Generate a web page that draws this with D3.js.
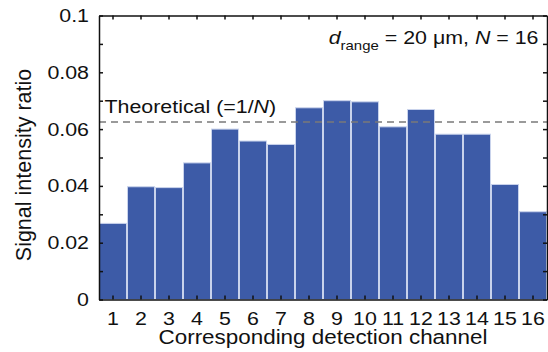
<!DOCTYPE html>
<html lang="en">
<head>
    <meta charset="UTF-8">
    <title>Signal intensity ratio per channel</title>
    <script src="https://d3js.org/d3.v7.min.js"></script>
    <style>
        body { margin: 0; background: #fff; }
        text { font-family: "Liberation Sans", Arial, sans-serif; fill: #111; }
        .axis path, .axis line { stroke: #111; stroke-width: 1.5px; }
        .axis text { font-size: 18.6px; }
    </style>
</head>
<body>
    <div id="chart"></div>

    <script>
        // values
        var channels = [1, 2, 3, 4, 5, 6, 7, 8, 9, 10, 11, 12, 13, 14, 15, 16];
        var ratios = [0.0268, 0.0397, 0.0394, 0.0481, 0.0600, 0.0558, 0.0546, 0.0675,
                      0.0700, 0.0696, 0.0608, 0.0669, 0.0582, 0.0582, 0.0405, 0.0309];
        var yLabelTicks = [0, 0.02, 0.04, 0.06, 0.08, 0.1];
        var yMinorTicks = [0, 0.01, 0.02, 0.03, 0.04, 0.05, 0.06, 0.07, 0.08, 0.09, 0.1];
        var theoretical = 1 / 16;

        var W = 548, H = 352;
        // plot frame ("top" is taken by window.top, so prefixed names)
        var pLeft = 99, pRight = 547, pTop = 15.5, pBottom = 299.5;
        var sx = 1.15; // text in the picture is a bit wider than it is tall

        var svg = d3.select("#chart").append("svg")
            .attr("width", W)
            .attr("height", H);

        var x = d3.scaleBand()
            .domain(channels)
            .range([pLeft, pRight])
            .padding(0);

        var y = d3.scaleLinear()
            .domain([0, 0.1])
            .range([pBottom, pTop]);

        // bars
        svg.append("g")
            .selectAll("rect")
            .data(channels)
            .join("rect")
            .attr("x", function(d) { return x(d) + 0.5; })
            .attr("width", x.bandwidth() - 1)
            .attr("y", function(d, i) { return y(ratios[i]); })
            .attr("height", function(d, i) { return y(0) - y(ratios[i]); })
            .attr("fill", "#3d5ba7")
            .attr("stroke", "#c9d3ec")
            .attr("stroke-width", 1);

        // theoretical line
        svg.append("line")
            .attr("x1", pLeft)
            .attr("x2", pRight)
            .attr("y1", y(theoretical))
            .attr("y2", y(theoretical))
            .attr("stroke", "#7a7a7a")
            .attr("stroke-width", 1.3)
            .attr("stroke-dasharray", "7,5");

        // axes, ticks point inward
        var fmt = function(d) { return d === 0 ? "0" : String(+d.toFixed(2)); };

        var gLeft = svg.append("g").attr("class", "axis")
            .attr("transform", "translate(" + pLeft + ",0)")
            .call(d3.axisLeft(y).tickValues(yMinorTicks).tickSize(-4).tickSizeOuter(0)
                .tickFormat(function(d) { return yLabelTicks.indexOf(d) >= 0 ? fmt(d) : ""; }));
        gLeft.selectAll("text")
            .attr("x", -10 / sx)
            .attr("transform", "scale(" + sx + ",1)");

        svg.append("g").attr("class", "axis")
            .attr("transform", "translate(" + pRight + ",0)")
            .call(d3.axisRight(y).tickValues(yMinorTicks).tickSize(-4).tickSizeOuter(0).tickFormat(""));

        var gBottom = svg.append("g").attr("class", "axis")
            .attr("transform", "translate(0," + pBottom + ")")
            .call(d3.axisBottom(x).tickSize(-4).tickSizeOuter(0));
        gBottom.selectAll("text")
            .attr("y", 25.5)
            .attr("dy", null)
            .attr("transform", "scale(" + sx + ",1)")
            .attr("x", 0);

        svg.append("g").attr("class", "axis")
            .attr("transform", "translate(0," + pTop + ")")
            .call(d3.axisTop(x).tickSize(-4).tickSizeOuter(0).tickFormat(""));

        svg.selectAll(".axis .domain").attr("stroke-width", 1.6);

        // axis titles
        svg.append("text")
            .attr("transform", "translate(31,165) rotate(-90)")
            .attr("text-anchor", "middle")
            .style("font-size", "21.5px")
            .text("Signal intensity ratio");

        svg.append("g")
            .attr("transform", "translate(323,343.5) scale(" + sx + ",1)")
            .append("text")
            .attr("text-anchor", "middle")
            .style("font-size", "19.5px")
            .text("Corresponding detection channel");

        // annotations
        var note = svg.append("g")
            .attr("transform", "translate(538.5,43.5) scale(" + sx + ",1)")
            .append("text")
            .attr("text-anchor", "end")
            .style("font-size", "18.6px");
        note.append("tspan").style("font-style", "italic").text("d");
        note.append("tspan").attr("dy", 6).style("font-size", "13px").text("range");
        note.append("tspan").attr("dy", -6).text(" = 20 \u03bcm, ");
        note.append("tspan").style("font-style", "italic").text("N");
        note.append("tspan").text(" = 16");

        var theo = svg.append("g")
            .attr("transform", "translate(104.5,113.3) scale(" + sx + ",1)")
            .append("text")
            .style("font-size", "18.6px");
        theo.append("tspan").text("Theoretical (=1/");
        theo.append("tspan").style("font-style", "italic").text("N");
        theo.append("tspan").text(")");
    </script>
</body>
</html>
